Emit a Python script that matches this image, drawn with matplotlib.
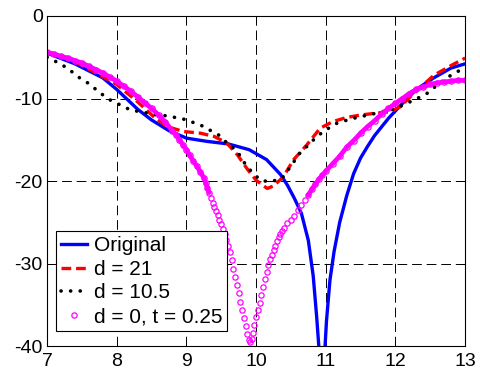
import numpy as np
import matplotlib
matplotlib.use('Agg')
import matplotlib.pyplot as plt

# Frequency (GHz) and return loss (dB) for each case
x_orig = [7.0, 7.4, 7.8, 8.0, 8.3, 8.5, 8.75, 9.0, 9.3, 9.6, 9.9, 10.15, 10.35, 10.45,
          10.55, 10.65, 10.75, 10.82, 10.87, 10.9, 10.94, 10.99, 11.01, 11.06, 11.12,
          11.2, 11.3, 11.4, 11.5, 11.6, 11.7, 11.9, 12.1, 12.3, 12.55, 12.8, 13.0]
y_orig = [-4.5, -5.8, -7.5, -8.9, -11.3, -12.6, -13.9, -14.8, -15.2, -15.5, -16.2, -17.4,
          -19.2, -20.5, -22.1, -23.9, -27.2, -31.5, -36.5, -40.0, -46.0, -40.0, -37.0,
          -32.0, -28.5, -25.0, -21.8, -19.1, -17.2, -15.8, -14.5, -12.4, -10.6, -8.9,
          -7.5, -6.3, -5.8]

x_d21 = [7.0, 7.4, 7.7, 8.0, 8.3, 8.53, 8.72, 8.96, 9.2, 9.4, 9.58, 9.73, 9.87, 10.0,
         10.16, 10.25, 10.39, 10.54, 10.73, 10.92, 11.1, 11.3, 11.5, 11.7, 11.93, 12.07,
         12.26, 12.55, 12.8, 13.0]
y_d21 = [-4.5, -5.5, -6.9, -8.3, -10.4, -12.2, -13.4, -14.0, -14.2, -14.6, -15.4, -16.8,
         -18.5, -19.9, -20.9, -20.6, -19.5, -17.4, -15.6, -13.6, -12.8, -12.3, -12.0,
         -11.8, -11.6, -11.0, -9.4, -7.2, -6.0, -5.1]

x_d105 = [7.0, 7.1, 7.29, 7.45, 7.62, 7.74, 7.91, 8.08, 8.2, 8.34, 8.58, 8.72, 8.96, 9.2,
          9.46, 9.56, 9.73, 9.87, 9.99, 10.06, 10.2, 10.37, 10.49, 10.63, 10.78, 10.87,
          11.02, 11.16, 11.35, 11.5, 11.66, 11.97, 12.16, 12.36, 12.45, 12.64, 12.81,
          12.9, 13.0]
y_d105 = [-5.0, -5.4, -6.3, -7.4, -8.3, -9.2, -10.2, -10.9, -11.4, -11.6, -12.0, -12.1,
          -12.5, -13.2, -14.4, -15.2, -16.4, -18.3, -19.3, -19.9, -20.1, -19.7, -18.3,
          -16.6, -15.4, -14.6, -13.7, -13.0, -12.5, -12.2, -11.9, -11.3, -10.6, -9.8,
          -9.4, -8.1, -7.1, -6.7, -6.2]

x_d0 = [7.0, 7.1, 7.2, 7.3, 7.4, 7.5, 7.6, 7.7, 7.8, 7.9, 8.0, 8.1, 8.2, 8.3, 8.4, 8.5,
        8.6, 8.7, 8.8, 8.85, 8.9, 8.95, 9.0, 9.05, 9.1, 9.15, 9.2, 9.25, 9.275, 9.3,
        9.325, 9.35, 9.375, 9.4, 9.425, 9.45, 9.475, 9.5, 9.525, 9.55, 9.575, 9.6,
        9.625, 9.65, 9.675, 9.7, 9.725, 9.75, 9.775, 9.8, 9.825, 9.85, 9.875, 9.9,
        9.915, 9.935, 9.95, 9.975, 10.0, 10.025, 10.05, 10.075, 10.1, 10.125, 10.15,
        10.175, 10.2, 10.225, 10.25, 10.275, 10.3, 10.325, 10.35, 10.375, 10.4, 10.45,
        10.5, 10.55, 10.6, 10.65, 10.7, 10.75, 10.8, 10.85, 10.9, 10.95, 11.0, 11.1,
        11.2, 11.3, 11.4, 11.5, 11.6, 11.7, 11.8, 11.9, 12.0, 12.1, 12.2, 12.3, 12.4,
        12.5, 12.6, 12.7, 12.8, 12.9, 13.0]
y_d0 = [-4.4, -4.6, -4.9, -5.1, -5.4, -5.7, -6.1, -6.5, -6.9, -7.4, -7.9, -8.5, -9.1,
        -9.8, -10.5, -11.2, -12.0, -12.9, -13.9, -14.4, -15.0, -15.6, -16.2, -16.9,
        -17.6, -18.2, -18.9, -19.6, -20.2, -20.8, -21.4, -22.0, -22.6, -23.1, -23.6,
        -24.1, -24.7, -25.2, -25.8, -26.4, -27.1, -27.9, -28.6, -29.6, -30.6, -31.6,
        -32.6, -33.6, -34.6, -35.6, -36.6, -37.6, -38.5, -39.2, -39.5, -39.1, -38.4,
        -37.4, -36.5, -35.6, -34.8, -33.8, -32.8, -31.9, -31.0, -30.2, -29.5, -28.9,
        -28.4, -27.9, -27.3, -26.8, -26.4, -26.0, -25.7, -25.1, -24.7, -24.2, -23.5,
        -22.9, -22.3, -21.7, -21.0, -20.4, -19.8, -19.3, -18.8, -17.9, -17.0, -15.9,
        -15.1, -14.2, -13.4, -12.7, -11.9, -11.2, -10.6, -10.0, -9.4, -8.9, -8.6, -8.3,
        -8.1, -8.0, -7.9, -7.8, -7.8]

labels = ['Original', 'd = 21', 'd = 10.5', 'd = 0, t = 0.25']
xticks = [7, 8, 9, 10, 11, 12, 13]
yticks = [0, -10, -20, -30, -40]

plt.rcParams['font.family'] = ['Liberation Sans', 'DejaVu Sans']
plt.rcParams['axes.unicode_minus'] = False
plt.rcParams['lines.scale_dashes'] = False

fig = plt.figure(figsize=(4.8, 3.71), dpi=100)
ax = fig.add_axes([0.098, 0.067, 0.871, 0.89])

ax.plot(x_orig, y_orig, color='#0000ff', lw=2.4, label=labels[0])
ax.plot(x_d21, y_d21, color='#ff0000', lw=2.4, ls=(0, (7, 3.5)), label=labels[1])
ax.plot(x_d105, y_d105, color='black', lw=2.6, ls=(0, (0.1, 6.8)),
        dash_capstyle='round', label=labels[2])

# solid band where the circles overlap, separate circles in the notch
xd = np.array(x_d0)
yd = np.array(y_d0)
band = np.where(yd > -22, yd, np.nan)
ax.plot(xd, band, color='#ff00ff', lw=3.4, solid_capstyle='round')
ax.plot(xd, yd, ls='none', marker='o', ms=3.8, mfc='none', mec='#ff00ff', mew=0.9,
        label=labels[3])

ax.set_xlim(7, 13)
ax.set_ylim(-40, 0)
ax.set_xticks(xticks)
ax.set_yticks(yticks)
ax.grid(True, color='black', lw=0.7, ls=(0, (7, 3.5)))
ax.tick_params(direction='in', top=True, right=True, length=4, labelsize=14, width=0.7)
ax.tick_params(axis='y', pad=3)
ax.tick_params(axis='x', pad=5)
for s in ax.spines.values():
    s.set_linewidth(0.8)

leg = ax.legend(loc='lower left', bbox_to_anchor=(0.022, 0.045), borderaxespad=0,
                fontsize=15, fancybox=False, edgecolor='black', framealpha=1,
                handlelength=1.25, handletextpad=0.3, borderpad=0.25, labelspacing=0.22,
                numpoints=1)
leg.get_frame().set_linewidth(0.8)

fig.savefig('out.png', dpi=100)
